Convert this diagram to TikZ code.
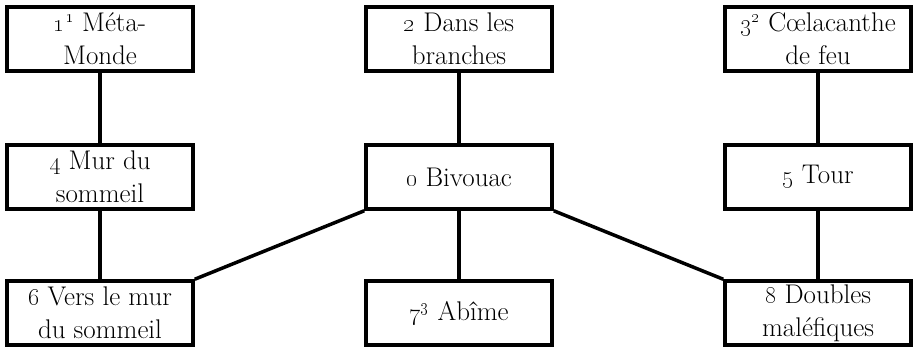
\documentclass[tikz,border=0pt]{standalone}
\newcommand{\osn}[1]{\oldstylenums{#1}}
\newcommand{\sups}[1]{\textsuperscript{\oldstylenums{#1}}}
\begin{document}
\begin{tikzpicture}[x=1pt,y=-1pt,
  box/.style={draw, line width=3.5pt, minimum width=186pt, minimum height=64pt,
    align=center, inner sep=0pt, font=\fontsize{27}{33}\selectfont},
  link/.style={line width=3.5pt}]
\useasboundingbox (0,0) rectangle (913,349);
\node[box] (b1) at (100,39) {\osn{1}\sups{1} Méta-\\Monde};
\node[box] (b2) at (459,39) {\osn{2} Dans les\\branches};
\node[box] (b3) at (818,39) {\osn{3}\sups{2} Cœlacanthe\\de feu};
\node[box] (b4) at (100,177) {\osn{4} Mur du\\sommeil};
\node[box] (b0) at (459,177) {\osn{0} Bivouac};
\node[box] (b5) at (818,177) {\osn{5} Tour};
\node[box] (b6) at (100,313) {\osn{6} Vers le mur\\du sommeil};
\node[box] (b7) at (459,313) {\osn{7}\sups{3} Abîme};
\node[box] (b8) at (818,313) {\osn{8} Doubles\\maléfiques};
\draw[link] (b1) -- (b4);
\draw[link] (b4) -- (b6);
\draw[link] (b2) -- (b0);
\draw[link] (b0) -- (b7);
\draw[link] (b3) -- (b5);
\draw[link] (b5) -- (b8);
\draw[link] (b0.south west) -- (b6.north east);
\draw[link] (b0.south east) -- (b8.north west);
\end{tikzpicture}
\end{document}
